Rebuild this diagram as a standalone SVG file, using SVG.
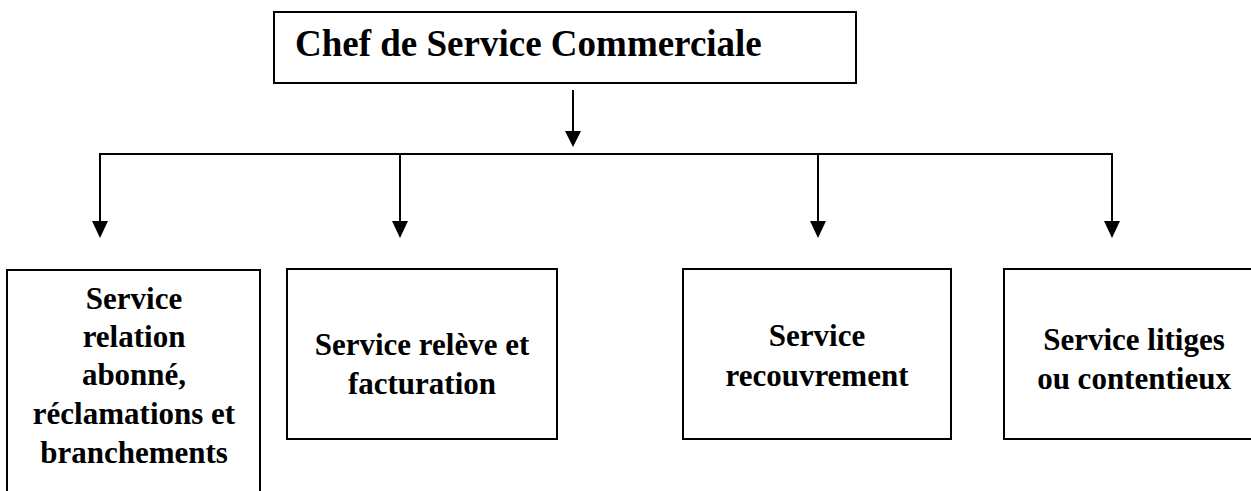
<svg xmlns="http://www.w3.org/2000/svg" width="1251" height="491" viewBox="0 0 1251 491">
  <style>
    .box { fill: #ffffff; stroke: #000000; stroke-width: 2; }
    .wire { fill: none; stroke: #000000; stroke-width: 2; }
    .head { fill: #000000; }
    .title { font-family: "Liberation Serif", "Times New Roman", serif; font-weight: bold; font-size: 37px; fill: #000000; }
    .label { font-family: "Liberation Serif", "Times New Roman", serif; font-weight: bold; font-size: 31px; fill: #000000; text-anchor: middle; }
  </style>
  <rect width="1251" height="491" fill="#ffffff"/>

  <g id="chef">
    <rect class="box" x="274" y="12" width="582" height="71"/>
    <text class="title" x="295" y="56">Chef de Service Commerciale</text>
  </g>

  <g id="connectors">
    <line class="wire" x1="573" y1="90" x2="573" y2="131"/>
    <path class="head" d="M565,131 L581,131 L573,147 Z"/>
    <line class="wire" x1="100" y1="154" x2="1112" y2="154"/>
    <line class="wire" x1="100" y1="153" x2="100" y2="222"/>
    <line class="wire" x1="400" y1="153" x2="400" y2="222"/>
    <line class="wire" x1="818" y1="153" x2="818" y2="222"/>
    <line class="wire" x1="1112" y1="153" x2="1112" y2="222"/>
    <path class="head" d="M92,221 L108,221 L100,238 Z"/>
    <path class="head" d="M392,221 L408,221 L400,238 Z"/>
    <path class="head" d="M810,221 L826,221 L818,238 Z"/>
    <path class="head" d="M1104,221 L1120,221 L1112,238 Z"/>
  </g>

  <g id="relation">
    <rect class="box" x="7" y="270" width="253" height="240"/>
    <text class="label" x="134" y="309">Service</text>
    <text class="label" x="134" y="347">relation</text>
    <text class="label" x="134" y="385">abonné,</text>
    <text class="label" x="134" y="424">réclamations et</text>
    <text class="label" x="134" y="463">branchements</text>
  </g>

  <g id="releve">
    <rect class="box" x="287" y="269" width="270" height="170"/>
    <text class="label" x="422" y="355">Service relève et</text>
    <text class="label" x="422" y="394">facturation</text>
  </g>

  <g id="recouvrement">
    <rect class="box" x="683" y="269" width="268" height="170"/>
    <text class="label" x="817" y="346">Service</text>
    <text class="label" x="817" y="386">recouvrement</text>
  </g>

  <g id="litiges">
    <rect class="box" x="1004" y="269" width="260" height="170"/>
    <text class="label" x="1134" y="350">Service litiges</text>
    <text class="label" x="1134" y="389">ou contentieux</text>
  </g>
</svg>
